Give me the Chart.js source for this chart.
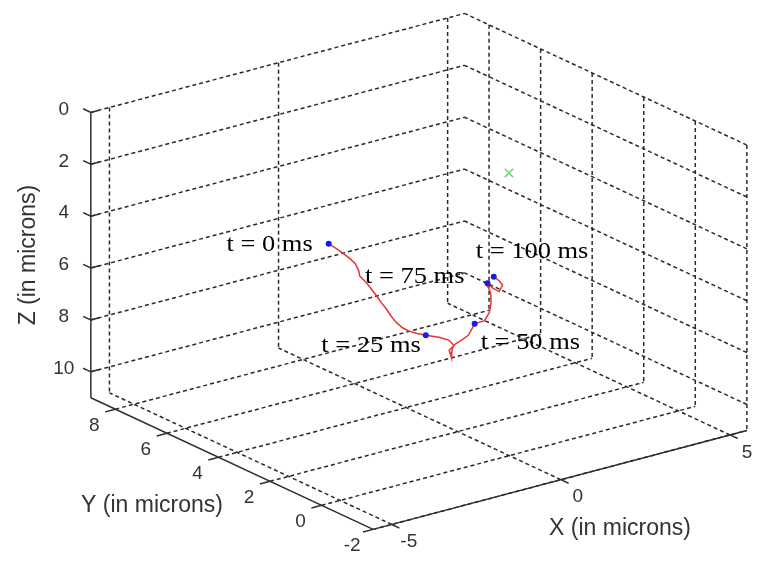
<!DOCTYPE html>
<html>
<head>
<meta charset="utf-8">
<script src="https://cdn.jsdelivr.net/npm/chart.js@4.4.0/dist/chart.umd.min.js"></script>
<style>
  html, body { margin: 0; padding: 0; background: #fff; }
</style>
</head>
<body>
<canvas id="trackChart" width="761" height="564"></canvas>
<script>
// axis ticks and limits (microns)
const xTicks = [-5, 0, 5];
const yTicks = [-2, 0, 2, 4, 6, 8];
const zTicks = [0, 2, 4, 6, 8, 10];
const xRange = [-5.55, 5.5];
const yRange = [-2, 8.95];
const zRange = [0, 11];

// particle track
const trackX = [-1.68, -1.44, -1.30, -1.11, -1.04, -0.95, -0.99, -0.78, -0.71, -0.56,
  -0.50, -0.35, -0.29, -0.14, -0.03, 0.17, 0.33, 0.58, 0.89, 1.18,
  1.25, 1.20, 1.11, 1.12, 1.31, 1.41, 1.61, 1.72, 2.01, 2.08,
  2.13, 2.04, 1.96, 1.87, 2.03, 2.22, 2.24, 2.14, 1.98];
const trackY = [4.8, 4.8, 4.7, 4.7, 4.6, 4.6, 4.5, 4.5, 4.4, 4.4,
  4.3, 4.3, 4.2, 4.2, 4.1, 4.1, 4.0, 4.0, 3.9, 3.9,
  3.8, 3.8, 3.7, 3.8, 3.8, 3.7, 3.7, 3.6, 3.6, 3.5,
  3.5, 3.4, 3.4, 3.3, 3.3, 3.3, 3.2, 3.2, 3.2];
const trackZ = [4.48, 4.76, 4.96, 5.22, 5.38, 5.66, 5.82, 6.17, 6.40, 6.70,
  6.93, 7.23, 7.47, 7.76, 7.96, 8.17, 8.26, 8.41, 8.55, 8.76,
  8.93, 9.16, 9.33, 9.08, 8.90, 8.75, 8.63, 8.18, 8.16, 7.82,
  7.46, 7.01, 6.73, 6.53, 6.77, 6.97, 6.68, 6.48, 6.27];

const markIndex = [0, 17, 27, 33, 38];
const markLabels = ['t = 0 ms', 't = 25 ms', 't = 50 ms', 't = 75 ms', 't = 100 ms'];
const targetPoint = [3.04, 4.0, 3.01];

// fixed MATLAB-like view (orthographic), units per micron on the plot plane
const view = { ox: 373, oy: 243, ex: [34.5, -9.2], ey: [-26.3, -12.35], ez: [0, 26.65] };

function project(x, y, z) {
  const dx = x - xRange[0], dy = y - yRange[0], dz = z - zRange[0];
  return {
    x: view.ox + dx * view.ex[0] + dy * view.ey[0] + dz * view.ez[0],
    y: view.oy + dx * view.ex[1] + dy * view.ey[1] + dz * view.ez[1]
  };
}

const gap = { x: null, y: null };
function segments(list) {
  const out = [];
  list.forEach(seg => {
    seg.forEach(p => out.push(project(p[0], p[1], p[2])));
    out.push(gap);
  });
  return out;
}

const [x0, x1] = xRange, [y0, y1] = yRange, [z0, z1] = zRange;

const gridSegs = [];
zTicks.forEach(z => {
  gridSegs.push([[x0, y1, z], [x1, y1, z]]);
  gridSegs.push([[x1, y0, z], [x1, y1, z]]);
});
xTicks.forEach(x => {
  gridSegs.push([[x, y1, z0], [x, y1, z1]]);
  gridSegs.push([[x, y0, z1], [x, y1, z1]]);
});
yTicks.forEach(y => {
  gridSegs.push([[x1, y, z0], [x1, y, z1]]);
  gridSegs.push([[x0, y, z1], [x1, y, z1]]);
});

const axisSegs = [
  [[x0, y1, z0], [x0, y1, z1]],
  [[x0, y1, z1], [x0, y0, z1]],
  [[x0, y0, z1], [x1, y0, z1]]
];
zTicks.forEach(z => axisSegs.push([[x0, y1 + 0.3, z], [x0, y1, z], [x0 + 0.25, y1, z]]));
yTicks.forEach(y => axisSegs.push([[x0, y, z1], [x0 - 0.3, y, z1]]));
xTicks.forEach(x => axisSegs.push([[x, y0, z1], [x, y0 - 0.3, z1]]));

const trackPoints = trackX.map((x, i) => project(x, trackY[i], trackZ[i]));
const markPoints = markIndex.map(i => trackPoints[i]);

// label placement relative to the marked point
const labelPlace = [
  { dx: -16, dy: 7, align: 'right' },
  { dx: -5, dy: 17, align: 'right' },
  { dx: 6, dy: 25, align: 'left' },
  { dx: -23, dy: 0, align: 'right' },
  { dx: -18, dy: -19, align: 'left' }
];

const textPlugin = {
  id: 'axisText',
  afterDatasetsDraw(chart) {
    const ctx = chart.ctx;
    const sx = chart.scales.x, sy = chart.scales.y;
    const px = p => [sx.getPixelForValue(p.x), sy.getPixelForValue(p.y)];
    ctx.save();
    ctx.fillStyle = '#333';
    ctx.textBaseline = 'middle';
    ctx.textAlign = 'center';
    ctx.font = '19px "Liberation Sans", Arial, sans-serif';
    zTicks.forEach(z => {
      const [a, b] = px(project(x0, y1, z));
      ctx.fillText(String(z), a - 27, b - 3);
    });
    yTicks.forEach(y => {
      const [a, b] = px(project(x0, y, z1));
      ctx.fillText(String(y), a - 21, b + 16.5);
    });
    xTicks.forEach(x => {
      const [a, b] = px(project(x, y0, z1));
      ctx.fillText(String(x), a + 17, b + 17.5);
    });

    ctx.font = '23px "Liberation Sans", Arial, sans-serif';
    let [a, b] = px(project(x0, (y0 + y1) / 2, z1));
    ctx.fillText('Y (in microns)', a - 80, b + 42);
    [a, b] = px(project((x0 + x1) / 2, y0, z1));
    ctx.fillText('X (in microns)', a + 60, b + 49);
    [a, b] = px(project(x0, y1, (z0 + z1) / 2));
    ctx.save();
    ctx.translate(a - 62, b);
    ctx.rotate(-Math.PI / 2);
    ctx.fillText('Z (in microns)', 0, 0);
    ctx.restore();

    ctx.fillStyle = '#000';
    ctx.textBaseline = 'alphabetic';
    ctx.font = '23px "Liberation Serif", "Times New Roman", serif';
    markPoints.forEach((p, i) => {
      const [u, v] = px(p);
      const pl = labelPlace[i];
      ctx.save();
      ctx.translate(u + pl.dx, v + pl.dy);
      ctx.scale(1.15, 1);
      ctx.textAlign = pl.align;
      ctx.fillText(markLabels[i], 0, 0);
      ctx.restore();
    });
    ctx.restore();
  }
};

new Chart(document.getElementById('trackChart'), {
  type: 'scatter',
  data: {
    datasets: [
      {
        data: markPoints,
        pointRadius: 3,
        pointBackgroundColor: '#1a1aee',
        pointBorderWidth: 0,
        order: 1
      },
      {
        data: [project(targetPoint[0], targetPoint[1], targetPoint[2])],
        pointStyle: 'crossRot',
        pointRadius: 6,
        pointBorderColor: '#6ad86a',
        pointBorderWidth: 1.5,
        order: 1
      },
      {
        data: trackPoints,
        showLine: true,
        borderColor: '#e63535',
        borderWidth: 1.5,
        pointRadius: 0,
        order: 2
      },
      {
        data: segments(axisSegs),
        showLine: true,
        spanGaps: false,
        borderColor: '#2e2e2e',
        borderWidth: 1.5,
        pointRadius: 0,
        order: 5
      },
      {
        data: segments(gridSegs),
        showLine: true,
        spanGaps: false,
        borderColor: '#2a2a2a',
        borderWidth: 1.5,
        borderDash: [4, 3],
        pointRadius: 0,
        order: 10
      }
    ]
  },
  options: {
    responsive: false,
    animation: false,
    devicePixelRatio: 1,
    layout: { padding: 0 },
    scales: {
      x: { type: 'linear', min: 0, max: 761, display: false },
      y: { type: 'linear', min: 0, max: 564, reverse: true, display: false }
    },
    plugins: {
      legend: { display: false },
      tooltip: { enabled: false }
    }
  },
  plugins: [textPlugin]
});
</script>
</body>
</html>
